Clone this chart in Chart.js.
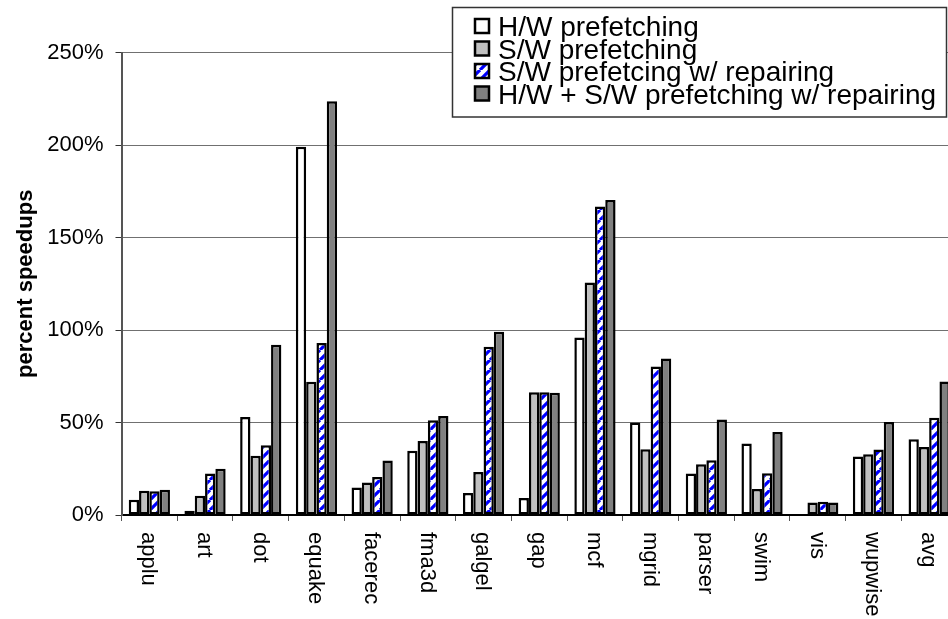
<!DOCTYPE html>
<html>
<head>
<meta charset="utf-8">
<script src="https://cdn.jsdelivr.net/npm/chart.js@4"></script>
<style>
  html, body { margin: 0; padding: 0; background: #fff; overflow: hidden; }
  canvas { display: block; }
</style>
</head>
<body>
<canvas id="c" width="970" height="619"></canvas>
<script>
const categories = ['applu','art','dot','equake','facerec','fma3d','galgel','gap','mcf','mgrid','parser','swim','vis','wupwise','avg'];
const seriesNames = ['H/W prefetching','S/W prefetching','S/W prefetcing w/ repairing','H/W + S/W prefetching w/ repairing'];
const hwPrefetch = [8.2, 2.3, 53, 199, 14.9, 34.7, 11.9, 9.2, 96, 50, 22.5, 38.6, 0.3, 31.6, 41];
const swPrefetch = [13.1, 10.4, 32, 72, 17.6, 40, 23.3, 66.4, 125.7, 35.6, 27.5, 14, 6.8, 32.9, 36.8];
const swRepair   = [12.8, 22.5, 37.7, 93, 20.6, 51.2, 91, 66.3, 166.7, 80.3, 29.6, 22.6, 7.2, 35.4, 52.6];
const hwSwRepair = [13.6, 25, 92, 223.6, 29.5, 53.5, 99, 66.1, 170.3, 84.6, 51.6, 44.9, 6.8, 50.3, 72.2];
const yTicks = [0, 50, 100, 150, 200, 250];

const FONT = "'Liberation Sans', Arial, sans-serif";

function makeHatch() {
  const t = document.createElement('canvas');
  t.width = 10; t.height = 10;
  const g = t.getContext('2d');
  g.fillStyle = '#fff'; g.fillRect(0, 0, 10, 10);
  g.strokeStyle = '#0000ff'; g.lineWidth = 3.2;
  g.beginPath();
  g.moveTo(0, 10); g.lineTo(10, 0);
  g.moveTo(-10, 10); g.lineTo(0, 0);
  g.moveTo(10, 10); g.lineTo(20, 0);
  g.stroke();
  return g.createPattern(t, 'repeat');
}

const ctx0 = document.getElementById('c').getContext('2d');
const hatch = makeHatch();
const fills = ['#ffffff', '#c0c0c0', hatch, '#808080'];
const allData = [hwPrefetch, swPrefetch, swRepair, hwSwRepair];

const labelsPlugin = {
  id: 'rotLabels',
  afterDraw(chart) {
    const ctx = chart.ctx;
    const xs = chart.scales.x;
    ctx.save();
    ctx.fillStyle = '#000';
    ctx.font = '22px ' + FONT;
    ctx.textAlign = 'left';
    ctx.textBaseline = 'middle';
    categories.forEach((c, i) => {
      const x = xs.getPixelForValue(i);
      ctx.save();
      ctx.translate(x - 1, xs.top + 17);
      ctx.rotate(Math.PI / 2);
      ctx.fillText(c, 0, 0);
      ctx.restore();
    });
    ctx.restore();
  }
};

const legendPlugin = {
  id: 'boxLegend',
  afterDraw(chart) {
    const ctx = chart.ctx;
    ctx.save();
    ctx.fillStyle = '#fff';
    ctx.fillRect(452.5, 7.5, 494, 109.5);
    ctx.strokeStyle = '#333';
    ctx.lineWidth = 1.5;
    ctx.strokeRect(452.5, 7.5, 494, 109.5);
    ctx.font = '28px ' + FONT;
    ctx.textAlign = 'left';
    ctx.textBaseline = 'alphabetic';
    seriesNames.forEach((name, i) => {
      const cy = 26 + i * 22.5;
      ctx.fillStyle = fills[i];
      ctx.fillRect(475, cy - 7, 14, 14);
      ctx.strokeStyle = '#000';
      ctx.lineWidth = 2.5;
      ctx.strokeRect(475, cy - 7, 14, 14);
      ctx.fillStyle = '#000';
      ctx.fillText(name, 498, cy + 10);
    });
    ctx.restore();
  }
};

new Chart(ctx0, {
  type: 'bar',
  data: {
    labels: categories,
    datasets: allData.map((d, i) => ({
      label: seriesNames[i],
      data: d,
      backgroundColor: fills[i],
      borderColor: '#000',
      borderWidth: 2.5,
      borderSkipped: false,
      categoryPercentage: 0.74,
      barPercentage: 1.0
    }))
  },
  options: {
    responsive: false,
    animation: false,
    events: [],
    layout: { padding: { left: 0, right: 13, top: 52.5, bottom: 0 } },
    plugins: { legend: { display: false }, tooltip: { enabled: false } },
    scales: {
      x: {
        offset: true,
        ticks: { display: false },
        grid: { drawOnChartArea: false, drawTicks: true, tickLength: 6, tickColor: '#555', offset: true },
        border: { display: true, color: '#000', width: 2 },
        afterFit: s => { s.height = 104; }
      },
      y: {
        min: 0, max: 250,
        afterBuildTicks: s => { s.ticks = yTicks.map(v => ({ value: v })); },
        ticks: {
          color: '#000',
          padding: 12,
          font: { family: FONT, size: 22 },
          callback: v => v + '%'
        },
        grid: { color: '#707070', lineWidth: 1, tickLength: 6, tickColor: '#333' },
        border: { display: true, color: '#555', width: 2 },
        title: {
          display: true,
          text: 'percent speedups',
          color: '#000',
          font: { family: FONT, size: 22, weight: 'bold' },
          padding: { top: 13, bottom: 0 }
        },
        afterFit: s => { s.width = 121.5; }
      }
    }
  },
  plugins: [labelsPlugin, legendPlugin]
});
</script>
</body>
</html>
